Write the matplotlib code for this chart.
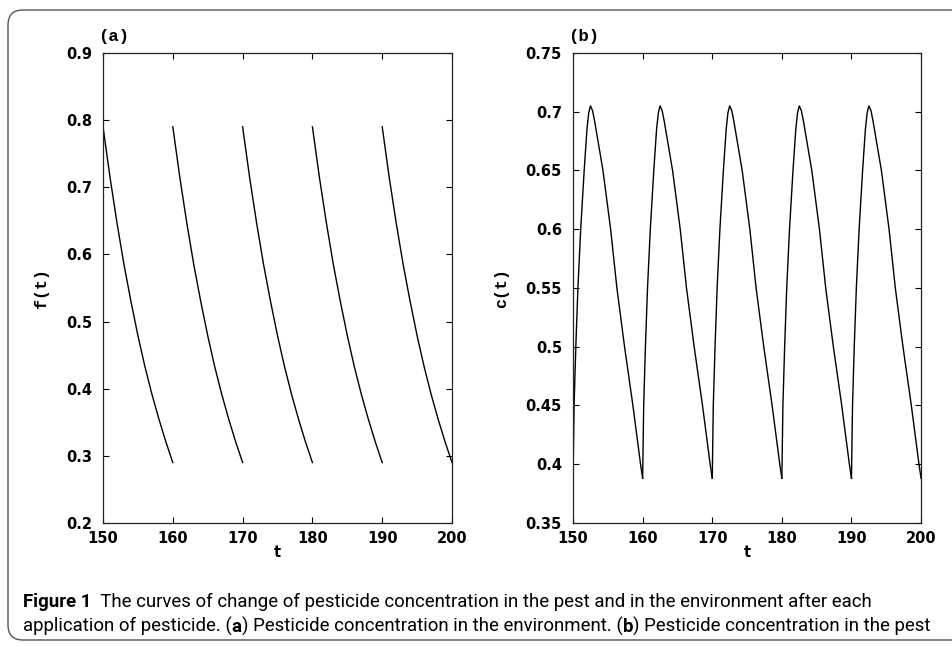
import matplotlib
matplotlib.use("Agg")
import matplotlib.pyplot as plt
from matplotlib import font_manager
from matplotlib.patches import FancyBboxPatch
from matplotlib.text import Annotation

# ---------- data ----------
pulse_starts = [150, 160, 170, 180, 190]          # one spray every 10 days

# (a) f(t) inside one period, offset from the spray time
f_offsets = [0, 1, 2, 3, 4, 5, 6, 7, 8, 9, 10]
f_values = [0.79, 0.715, 0.647, 0.585, 0.53, 0.479, 0.433, 0.392, 0.355, 0.321, 0.29]

# (b) c(t) inside one period
c_offsets = [0, 0.15, 0.4, 0.7, 1.1, 1.6, 2.0, 2.25, 2.5, 2.8, 3.1, 3.5, 4.3, 5.4, 6.3, 7.4, 8.6, 9.7, 10]
c_values = [0.388, 0.45, 0.50, 0.55, 0.60, 0.65, 0.685, 0.699, 0.705, 0.701, 0.692, 0.678, 0.65,
            0.60, 0.55, 0.50, 0.45, 0.40, 0.388]

xticks = [150, 160, 170, 180, 190, 200]
f_yticks = [0.2, 0.3, 0.4, 0.5, 0.6, 0.7, 0.8, 0.9]
c_yticks = [0.35, 0.4, 0.45, 0.5, 0.55, 0.6, 0.65, 0.7, 0.75]

caption1 = [("Figure 1", "bold"),
            ("  The curves of change of pesticide concentration in the pest and in the environment after each", "normal")]
caption2 = [("application of pesticide. (", "normal"), ("a", "bold"),
            (") Pesticide concentration in the environment. (", "normal"), ("b", "bold"),
            (") Pesticide concentration in the pest", "normal")]

# ---------- fonts ----------
names = {f.name for f in font_manager.fontManager.ttflist}
if "Liberation Sans Narrow" in names:
    cap_font, cap_size = "Liberation Sans Narrow", 12.5
else:
    cap_font, cap_size = "Roboto", 13.4
tick_font = "DejaVu Sans"
mono_font = "Liberation Mono"

fig = plt.figure(figsize=(9.53, 6.47), dpi=100)

# rounded frame, open to the right
frame = FancyBboxPatch((0.08, 0.07), 10.0, 6.30, boxstyle="round,pad=0,rounding_size=0.15",
                       transform=fig.dpi_scale_trans, facecolor="none",
                       edgecolor="#555555", linewidth=1.0, clip_on=False)
fig.patches.append(frame)


def style_axes(ax, yticks, ylim, ylabel, tag):
    ax.set_xlim(150, 200)
    ax.set_ylim(*ylim)
    ax.set_xticks(xticks)
    ax.set_yticks(yticks)
    ax.set_yticklabels([f"{v:g}" for v in yticks])
    ax.tick_params(direction="in", length=4, width=0.8, top=True, right=True,
                   labelsize=10.5, labelfontfamily=tick_font)
    ax.tick_params(axis="x", pad=6)
    ax.tick_params(axis="y", pad=8)
    for lab in ax.get_xticklabels() + ax.get_yticklabels():
        lab.set_fontweight("bold")
    for s in ax.spines.values():
        s.set_linewidth(0.9)
        s.set_color("#222222")
    ax.set_xlabel("t", fontfamily=tick_font, fontweight="bold", fontsize=10.5, labelpad=-1)
    ax.set_ylabel(ylabel, fontfamily=mono_font, fontweight="bold", fontsize=12, labelpad=12)
    ax.text(-0.015, 1.02, tag, transform=ax.transAxes, fontfamily=mono_font,
            fontweight="bold", fontsize=12.5, ha="left", va="bottom")


# (a)
ax1 = fig.add_axes([0.1081, 0.1917, 0.3662, 0.7264])
for t0 in pulse_starts:
    ax1.plot([t0 + o for o in f_offsets], f_values, color="black", lw=1.0)
style_axes(ax1, f_yticks, (0.2, 0.9), "f(t)", "(a)")

# (b)
ax2 = fig.add_axes([0.6013, 0.1917, 0.3652, 0.7264])
for t0 in pulse_starts:
    ax2.plot([t0 + o for o in c_offsets], c_values, color="black", lw=1.0)
style_axes(ax2, c_yticks, (0.35, 0.75), "c(t)", "(b)")


# caption: pieces chained one after the other so bold bits sit inline
def chain(parts, x, y):
    prev = None
    for txt, w in parts:
        if prev is None:
            prev = fig.text(x, y, txt, fontfamily=cap_font, fontweight=w,
                            fontsize=cap_size, ha="left", va="bottom")
        else:
            prev = fig.add_artist(Annotation(txt, xy=(1, 0), xycoords=prev, ha="left", va="bottom",
                                             fontfamily=cap_font, fontweight=w, fontsize=cap_size))


chain(caption1, 23 / 953, 1 - 611 / 647)
chain(caption2, 23 / 953, 1 - 636 / 647)

fig.savefig("out.png", dpi=100)
